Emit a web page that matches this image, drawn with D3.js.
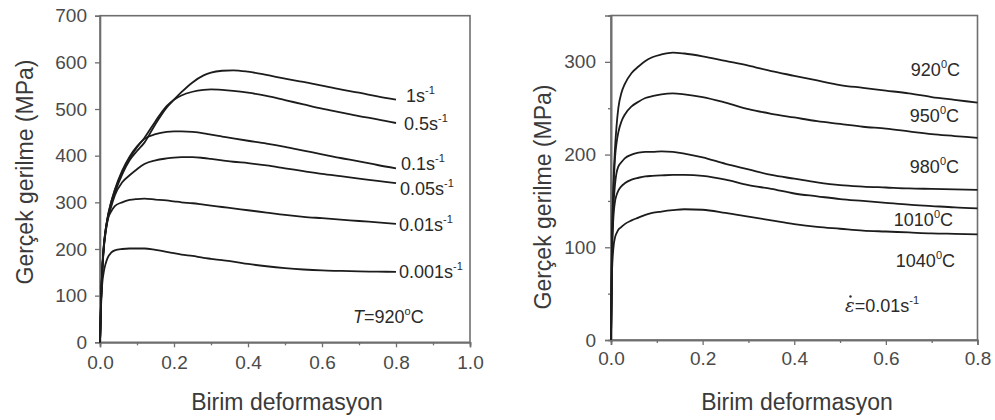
<!DOCTYPE html>
<html>
<head>
<meta charset="utf-8">
<script src="https://cdn.jsdelivr.net/npm/d3@7"></script>
<style>
  html, body { margin: 0; padding: 0; background: #fff; }
  svg { display: block; font-family: "Liberation Sans", Arial, sans-serif; }
</style>
</head>
<body>
<svg id="chart" width="995" height="420"></svg>
<script>
// ---- Left panel: flow curves at T = 920 °C for several strain rates ----
const strainA = [0, 0.003, 0.006, 0.01, 0.015, 0.02, 0.03, 0.04, 0.06, 0.08, 0.1, 0.12, 0.15, 0.18, 0.2,
  0.22, 0.25, 0.28, 0.3, 0.33, 0.36, 0.4, 0.45, 0.5, 0.55, 0.6, 0.65, 0.7, 0.75, 0.8];
const rateLabels = ["1", "0.5", "0.1", "0.05", "0.01", "0.001"];
const stress1 = [0, 90, 150, 200, 235, 262, 295, 320, 360, 390, 410, 428, 468, 503, 520,
  536, 557, 572, 578, 582, 583, 580, 573, 565, 558, 550, 542, 535, 527, 520];
const stress05 = [0, 95, 155, 205, 240, 265, 300, 325, 365, 395, 418, 438, 474, 506, 520,
  529, 537, 541, 542, 541, 539, 535, 528, 519, 510, 501, 493, 485, 478, 470];
const stress01 = [0, 95, 155, 205, 240, 265, 300, 327, 368, 398, 420, 436, 446, 451, 452,
  452, 451, 448, 445, 441, 437, 432, 426, 419, 411, 403, 395, 388, 380, 373];
const stress005 = [0, 95, 155, 200, 235, 258, 290, 315, 343, 358, 371, 382, 390, 394, 396,
  397, 397, 395, 393, 390, 387, 384, 379, 373, 367, 361, 356, 351, 346, 341];
const stress001 = [0, 90, 150, 200, 240, 262, 280, 292, 300, 305, 307, 308, 306, 304, 302,
  300, 298, 295, 293, 290, 287, 283, 278, 273, 269, 266, 263, 260, 257, 254];
const stress0001 = [0, 80, 125, 150, 168, 180, 192, 197, 200, 201, 201, 201, 198, 194, 191,
  188, 185, 181, 179, 176, 173, 168, 163, 159, 156, 154, 153, 152, 151.5, 151];
const seriesA = [stress1, stress05, stress01, stress005, stress001, stress0001];

// ---- Right panel: flow curves at 0.01 s^-1 for several temperatures ----
const strainB = [0, 0.002, 0.005, 0.009, 0.012, 0.016, 0.023, 0.03, 0.045, 0.06, 0.075, 0.09, 0.11, 0.135,
  0.16, 0.2, 0.25, 0.3, 0.35, 0.4, 0.45, 0.5, 0.55, 0.6, 0.65, 0.7, 0.75, 0.8];
const tempLabels = ["920", "950", "980", "1010", "1040"];
const stressT920 = [0, 100, 165, 209, 230, 250, 267, 276, 288, 295, 301, 305, 308, 310,
  309, 306, 301, 296, 290, 285, 280, 275, 272, 269, 266, 262, 259, 256];
const stressT950 = [0, 95, 155, 198, 212, 224, 236, 243, 252, 257, 261, 263, 265, 266,
  265, 262, 256, 249, 244, 240, 236, 233, 230, 228, 225, 222, 220, 218];
const stressT980 = [0, 90, 140, 169, 180, 187, 192, 196, 200, 202, 203, 203, 203.5, 203,
  201, 197, 190, 184, 178, 174, 170, 167, 165.5, 164.5, 163.5, 163, 162.5, 162];
const stressT1010 = [0, 85, 130, 150, 156, 161, 166, 169, 173, 175, 176.5, 177, 177.5, 178,
  178, 177, 173, 167, 163, 158, 155, 152, 150, 148, 146, 144.5, 143, 142];
const stressT1040 = [0, 70, 98, 111, 115, 119, 122, 125, 129, 132, 135, 137, 138.5, 140,
  141, 140.5, 137, 133, 129, 125, 122, 120, 118, 117, 116, 115, 114.5, 114];
const seriesB = [stressT920, stressT950, stressT980, stressT1010, stressT1040];

// tick values
const xTicksA = [0, 0.2, 0.4, 0.6, 0.8, 1.0];
const xMinorA = [0.1, 0.3, 0.5, 0.7, 0.9];
const yTicksA = [0, 100, 200, 300, 400, 500, 600, 700];
const xTicksB = [0, 0.2, 0.4, 0.6, 0.8];
const xMinorB = [0.1, 0.3, 0.5, 0.7];
const yTicksB = [0, 100, 200, 300];
const yMinorB = [50, 150, 250];

const svg = d3.select("#chart");
const AXIS = "#6e6e6e", INK = "#1c1c1c", TXT = "#3a3a3a";

function panel(cfg) {
  const x = d3.scaleLinear().domain(cfg.xDomain).range(cfg.xRange);
  const y = d3.scaleLinear().domain(cfg.yDomain).range(cfg.yRange);
  const g = svg.append("g");

  // frame
  g.append("rect")
    .attr("x", cfg.xRange[0]).attr("y", cfg.yRange[1])
    .attr("width", cfg.xRange[1] - cfg.xRange[0])
    .attr("height", cfg.yRange[0] - cfg.yRange[1])
    .attr("fill", "none").attr("stroke", AXIS).attr("stroke-width", 1.6);

  const fmtX = d3.format(".1f");
  const xAxis = g.append("g").attr("transform", `translate(0,${cfg.yRange[0]})`)
    .call(d3.axisBottom(x).tickValues(cfg.xTicks).tickFormat(fmtX).tickSize(5).tickPadding(cfg.xPad));
  const xMinor = g.append("g").attr("transform", `translate(0,${cfg.yRange[0]})`)
    .call(d3.axisBottom(x).tickValues(cfg.xMinor).tickFormat("").tickSize(3));
  const yAxis = g.append("g").attr("transform", `translate(${cfg.xRange[0]},0)`)
    .call(d3.axisLeft(y).tickValues(cfg.yTicks).tickFormat(d3.format("d")).tickSize(cfg.yTick).tickPadding(cfg.yPad));
  const axes = [xAxis, xMinor, yAxis];
  if (cfg.yMinor) {
    axes.push(g.append("g").attr("transform", `translate(${cfg.xRange[0]},0)`)
      .call(d3.axisLeft(y).tickValues(cfg.yMinor).tickFormat("").tickSize(3)));
  }
  axes.forEach(a => {
    a.select(".domain").attr("stroke", AXIS).attr("stroke-width", 1.6);
    a.selectAll(".tick line").attr("stroke", AXIS).attr("stroke-width", 1.3);
    a.selectAll(".tick text").attr("fill", "#4a4a4a").attr("font-size", 19)
      .attr("font-family", "'Liberation Sans', Arial, sans-serif");
  });

  // curves
  const line = d3.line()
    .x((d, i) => x(cfg.strain[i]))
    .y(d => y(d))
    .curve(d3.curveMonotoneX);
  g.append("g").selectAll("path").data(cfg.series).join("path")
    .attr("d", line)
    .attr("fill", "none").attr("stroke", INK).attr("stroke-width", 1.8)
    .attr("stroke-linejoin", "round");

  // axis titles
  g.append("text")
    .attr("x", cfg.xTitle[0]).attr("y", cfg.xTitle[1])
    .attr("text-anchor", "middle").attr("font-size", 23).attr("fill", TXT)
    .text("Birim deformasyon");
  g.append("text")
    .attr("transform", `translate(${cfg.yTitle[0]},${cfg.yTitle[1]}) rotate(-90)`)
    .attr("text-anchor", "middle").attr("dy", "0.35em").attr("font-size", 23).attr("fill", TXT)
    .text("Gerçek gerilme (MPa)");
  return g;
}

const gA = panel({
  xDomain: [0, 1], xRange: [100, 470],
  yDomain: [0, 700], yRange: [342.3, 15.7],
  xTicks: xTicksA, xMinor: xMinorA, yTicks: yTicksA,
  yTick: 5, yPad: 8, xPad: 8,
  strain: strainA, series: seriesA,
  xTitle: [287, 410], yTitle: [25, 172]
});

const gB = panel({
  xDomain: [0, 0.8], xRange: [611, 977.5],
  yDomain: [0, 350], yRange: [340, 15.5],
  xTicks: xTicksB, xMinor: xMinorB, yTicks: yTicksB, yMinor: yMinorB,
  yTick: 6, yPad: 9, xPad: 7,
  strain: strainB, series: seriesB,
  xTitle: [797, 410], yTitle: [543, 197]
});

// strain-rate labels beside the curve ends
const rateLabelPos = [[406, 102], [404, 130], [401, 170], [400, 195], [399, 231], [399, 278]];
rateLabels.forEach((r, i) => {
  const t = gA.append("text")
    .attr("x", rateLabelPos[i][0]).attr("y", rateLabelPos[i][1])
    .attr("font-size", 18).attr("fill", "#2a2a2a");
  t.append("tspan").text(r + "s");
  t.append("tspan").attr("dy", -8).attr("font-size", 11).text("-1");
});

// T = 920 °C note
{
  const t = gA.append("text").attr("x", 353).attr("y", 323)
    .attr("font-size", 18).attr("fill", "#2a2a2a");
  t.append("tspan").attr("font-style", "italic").text("T");
  t.append("tspan").text("=920");
  t.append("tspan").attr("dy", -8).attr("font-size", 11).text("o");
  t.append("tspan").attr("dy", 8).text("C");
}

// temperature labels
const tempLabelPos = [[960, 76], [959, 122], [959, 173], [953, 226], [955, 267]];
tempLabels.forEach((tl, i) => {
  const t = gB.append("text")
    .attr("x", tempLabelPos[i][0]).attr("y", tempLabelPos[i][1])
    .attr("text-anchor", "end").attr("font-size", 18).attr("fill", "#2a2a2a");
  t.append("tspan").text(tl);
  t.append("tspan").attr("dy", -8).attr("font-size", 11).text("0");
  t.append("tspan").attr("dy", 8).text("C");
});

// strain-rate note
{
  const t = gB.append("text").attr("x", 845).attr("y", 312)
    .attr("font-size", 18).attr("fill", "#2a2a2a");
  t.append("tspan").attr("font-style", "italic").attr("font-family", "'DejaVu Serif', serif").text("ε");
  t.append("tspan").text("=0.01s");
  t.append("tspan").attr("dy", -8).attr("font-size", 11).text("-1");
  gB.append("circle").attr("cx", 850.5).attr("cy", 296.5).attr("r", 1.2).attr("fill", "#2a2a2a");
}
</script>
</body>
</html>
